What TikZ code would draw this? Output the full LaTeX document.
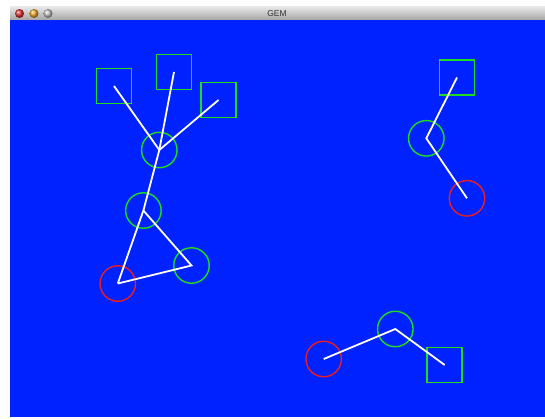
\documentclass[tikz,border=0pt]{standalone}
\usepackage{fontspec}
\setmainfont{Liberation Sans}
\definecolor{bgblue}{RGB}{0,34,255}
\definecolor{lgreen}{RGB}{30,220,30}
\definecolor{lred}{RGB}{235,30,30}
\begin{document}
\begin{tikzpicture}[x=1pt,y=-1pt,
  green circ/.style={circle,draw=lgreen,line width=1.4pt,minimum size=35.5pt,inner sep=0pt},
  red circ/.style={circle,draw=lred,line width=1.4pt,minimum size=35.5pt,inner sep=0pt},
  box/.style={rectangle,draw=lgreen,line width=1.8pt,minimum size=35pt,inner sep=0pt},
  link/.style={draw=white,line width=1.8pt},
  btn/.style={circle,minimum size=9pt,inner sep=0pt}]
\useasboundingbox (0,0) rectangle (545,418);
\fill[white] (0,0) rectangle (545,418);
% title bar
\shade[top color={rgb,255:red,232;green,232;blue,232},bottom color={rgb,255:red,165;green,165;blue,165}] (10,6.5) rectangle (545,20);
\draw[gray!60!black,line width=0.6pt] (10,20) -- (545,20);
\fill[bgblue] (10,20.3) rectangle (545,417);
\node[btn,ball color={rgb,255:red,230;green,50;blue,50}] (b1) at (19.5,13.5) {};
\node[btn,ball color={rgb,255:red,240;green,170;blue,40}] (b2) at (34,13.5) {};
\node[btn,ball color={rgb,255:red,200;green,200;blue,200}] (b3) at (48,13.5) {};
\node[font=\fontsize{8.5}{9}\selectfont,text=black!80] (title) at (277,13.5) {GEM};
% group 1
\node[box] (s1) at (114,86) {};
\node[box] (s2) at (174,72) {};
\node[box] (s3) at (218.5,100) {};
\node[green circ] (h1) at (159.3,150) {};
\node[green circ] (g2) at (143.4,210.5) {};
\node[green circ] (g3) at (191.5,265.5) {};
\node[red circ] (r1) at (117.8,283.5) {};
\draw[link] (h1.center) -- (s1.center);
\draw[link] (h1.center) -- (s2.center);
\draw[link] (h1.center) -- (s3.center);
\draw[link] (h1.center) -- (g2.center) -- (r1.center);
\draw[link] (g2.center) -- (g3.center) -- (r1.center);
% group 2
\node[box] (s4) at (457,77.5) {};
\node[green circ] (g4) at (426.3,138.3) {};
\node[red circ] (r2) at (467,198.3) {};
\draw[link] (s4.center) -- (g4.center) -- (r2.center);
% group 3
\node[red circ] (r3) at (323.7,359) {};
\node[green circ] (g5) at (395.3,329) {};
\node[box] (s5) at (444.7,365) {};
\draw[link] (r3.center) -- (g5.center) -- (s5.center);
\end{tikzpicture}
\end{document}
